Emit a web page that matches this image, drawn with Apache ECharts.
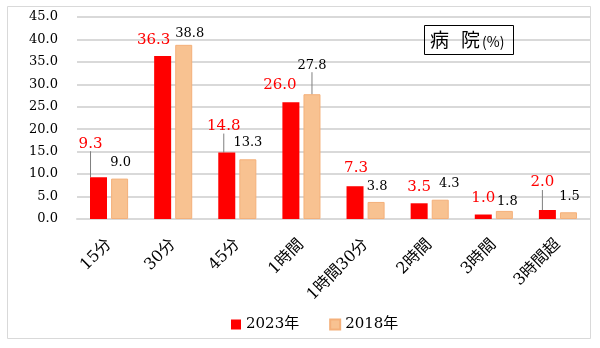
<!DOCTYPE html>
<html>
<head>
<meta charset="utf-8">
<script src="https://cdn.jsdelivr.net/npm/echarts@6/dist/echarts.min.js"></script>
<style>
  html, body { margin: 0; padding: 0; background: #fff; }
  #chart { width: 600px; height: 348px; }
</style>
</head>
<body>
<div id="chart"></div>
<script>
// Travel time to the hospital, share of respondents (%)
const categories = ['15分', '30分', '45分', '1時間', '1時間30分', '2時間', '3時間', '3時間超'];
const values2023 = [9.3, 36.3, 14.8, 26.0, 7.3, 3.5, 1.0, 2.0];
const values2018 = [9.0, 38.8, 13.3, 27.8, 3.8, 4.3, 1.8, 1.5];
const yTicks = { min: 0, max: 45, interval: 5 };

// Label nudges [dx, dy] from the default "top" spot, and which labels get a leader line
const nudge2023 = [[-8, -21], [-9, -3], [-3, -14], [-11, -5], [1, -6], [0, -4], [0, -4], [-5, -15]];
const nudge2018 = [[1, -4], [6, 0], [0, -5], [0, -17], [1, -4], [9, -5], [3, 2], [1, -4]];
const leader2023 = [true, false, true, false, false, false, false, true];
const leader2018 = [false, false, false, true, false, false, false, false];

const SERIF = '"DejaVu Serif", "Noto Sans CJK JP", serif';

function buildData(values, leaders) {
  return values.map((v, i) => ({
    value: v,
    labelLine: { show: leaders[i] }
  }));
}

const chart = echarts.init(document.getElementById('chart'), null, { renderer: 'canvas' });

chart.setOption({
  backgroundColor: '#ffffff',
  animation: false,
  title: {
    text: '{a|病}{s| }{a|院}{b|(%)}',
    left: 424,
    top: 24,
    padding: [5, 9, 5, 6],
    borderColor: '#000',
    borderWidth: 1,
    textStyle: {
      fontWeight: 'normal',
      rich: {
        a: { fontFamily: '"Noto Sans CJK JP", sans-serif', fontWeight: 'normal', fontSize: 19, color: '#000', lineHeight: 22 },
        s: { fontSize: 19, width: 12, lineHeight: 22 },
        b: { fontFamily: '"Noto Sans CJK JP", sans-serif', fontWeight: 'normal', fontSize: 14, color: '#000', lineHeight: 22, padding: [3, 0, 0, 2] }
      }
    }
  },
  graphic: [{
    type: 'rect',
    shape: { x: 7.5, y: 6.5, width: 583, height: 332 },
    style: { fill: null, stroke: '#d9d9d9', lineWidth: 1 },
    silent: true,
    z: -1
  }],
  legend: {
    left: 226,
    top: 312,
    itemWidth: 10,
    itemHeight: 10,
    itemGap: 30,
    icon: 'rect',
    textStyle: { fontFamily: SERIF, fontSize: 15, color: '#000' },
    data: ['2023年', '2018年']
  },
  grid: { left: 77, right: 10, top: 17, bottom: 129, containLabel: false },
  xAxis: {
    type: 'category',
    data: categories,
    axisLine: { show: true, lineStyle: { color: '#d9d9d9', width: 2 } },
    axisTick: { show: false },
    axisLabel: {
      rotate: 45,
      margin: 23,
      interval: 0,
      fontFamily: SERIF,
      fontSize: 16,
      color: '#000'
    }
  },
  yAxis: {
    type: 'value',
    min: yTicks.min,
    max: yTicks.max,
    interval: yTicks.interval,
    axisLine: { show: false },
    axisTick: { show: false },
    splitLine: { lineStyle: { color: '#d9d9d9', width: 2 } },
    axisLabel: {
      margin: 19,
      fontFamily: SERIF,
      fontSize: 13,
      color: '#000',
      formatter: v => v.toFixed(1)
    }
  },
  series: [
    {
      name: '2023年',
      type: 'bar',
      barWidth: 17,
      barGap: '24%',
      data: buildData(values2023, leader2023),
      itemStyle: { color: '#ff0000' },
      label: {
        show: true,
        position: 'top',
        distance: 5,
        fontFamily: SERIF,
        fontSize: 15,
        color: '#ff0000',
        formatter: p => p.value.toFixed(1)
      },
      labelLine: { show: false, lineStyle: { color: '#7f7f7f', width: 1 } },
      labelLayout: p => ({ dx: nudge2023[p.dataIndex][0], dy: nudge2023[p.dataIndex][1] })
    },
    {
      name: '2018年',
      type: 'bar',
      barWidth: 17,
      data: buildData(values2018, leader2018),
      itemStyle: { color: '#f8c291', borderColor: '#f4b07a', borderWidth: 1 },
      label: {
        show: true,
        position: 'top',
        distance: 5,
        fontFamily: SERIF,
        fontSize: 13,
        color: '#000',
        formatter: p => p.value.toFixed(1)
      },
      labelLine: { show: false, lineStyle: { color: '#7f7f7f', width: 1 } },
      labelLayout: p => ({ dx: nudge2018[p.dataIndex][0], dy: nudge2018[p.dataIndex][1] })
    }
  ]
});
</script>
</body>
</html>
